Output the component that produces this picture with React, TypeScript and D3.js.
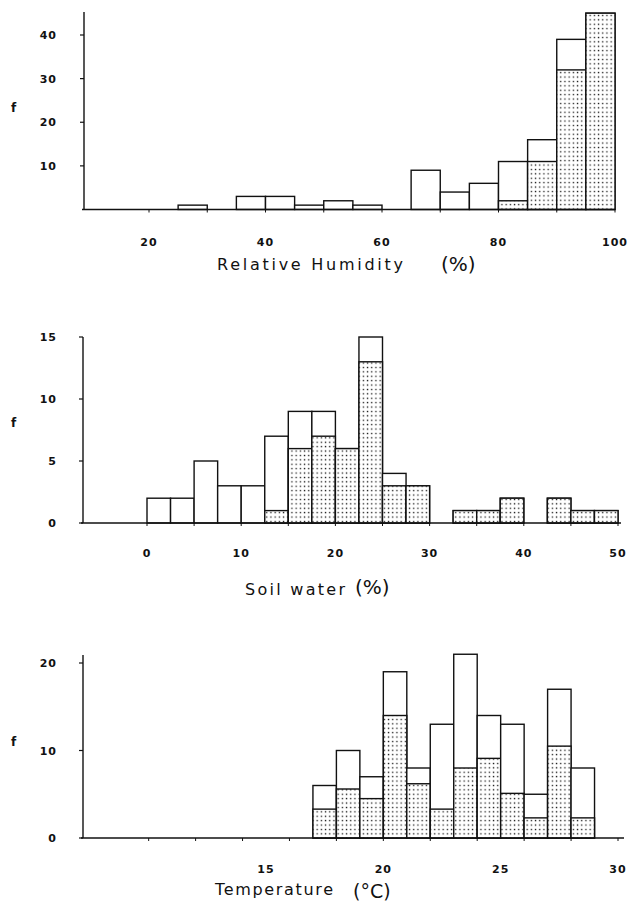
import React from 'react';
import * as d3 from 'd3';

// Relative humidity, 5 % bins
const rhBins = [10, 15, 20, 25, 30, 35, 40, 45, 50, 55, 60, 65, 70, 75, 80, 85, 90, 95];
const rhTotal = [0, 0, 0, 1, 0, 3, 3, 1, 2, 1, 0, 9, 4, 6, 11, 16, 39, 45];
const rhShaded = [0, 0, 0, 0, 0, 0, 0, 0, 0, 0, 0, 0, 0, 0, 2, 11, 32, 45];
const rhXTicks = [20, 40, 60, 80, 100];
const rhYTicks = [10, 20, 30, 40];

// Soil water, 2.5 % bins
const swBins = [0, 2.5, 5, 7.5, 10, 12.5, 15, 17.5, 20, 22.5, 25, 27.5, 30, 32.5, 35, 37.5, 40, 42.5, 45, 47.5];
const swTotal = [2, 2, 5, 3, 3, 7, 9, 9, 6, 15, 4, 3, 0, 1, 1, 2, 0, 2, 1, 1];
const swShaded = [0, 0, 0, 0, 0, 1, 6, 7, 6, 13, 3, 3, 0, 1, 1, 2, 0, 2, 1, 1];
const swXTicks = [0, 10, 20, 30, 40, 50];
const swYTicks = [0, 5, 10, 15];

// Temperature, 1 degree bins
const tBins = [17, 18, 19, 20, 21, 22, 23, 24, 25, 26, 27, 28];
const tTotal = [6, 10, 7, 19, 8, 13, 21, 14, 13, 5, 17, 8];
const tShaded = [3.3, 5.6, 4.5, 14, 6.2, 3.3, 8, 9.1, 5.1, 2.3, 10.5, 2.3];
const tXTicks = [15, 20, 25, 30];
const tYTicks = [0, 10, 20];

const ink = '#111';
const tickFont = { fontFamily: 'DejaVu Sans', fontWeight: 700, fontSize: 11, letterSpacing: 1 };

function Histogram(props: any) {
  const { bins, width, total, shaded, x, y, axisX, axisTop, axisEnd, xTicks, minorTicks, yTicks, labelY, fY } = props;
  const y0 = y(0);
  return (
    <g>
      {bins.map((b: number, i: number) => {
        const x0 = x(b);
        const w = x(b + width) - x0;
        return (
          <g key={b}>
            {total[i] > 0 && (
              <rect x={x0} y={y(total[i])} width={w} height={y0 - y(total[i])}
                fill="#fff" stroke={ink} strokeWidth={1.4} />
            )}
            {shaded[i] > 0 && (
              <rect x={x0} y={y(shaded[i])} width={w} height={y0 - y(shaded[i])}
                fill="url(#dots)" stroke={ink} strokeWidth={1.4} />
            )}
          </g>
        );
      })}
      <line x1={axisX} x2={axisX} y1={y0} y2={axisTop} stroke={ink} strokeWidth={1.4} />
      <line x1={axisX - 2} x2={axisEnd} y1={y0} y2={y0} stroke={ink} strokeWidth={1.6} />
      {minorTicks.map((t: number) => (
        <line key={'m' + t} x1={x(t)} x2={x(t)} y1={y0} y2={y0 + 3} stroke={ink} strokeWidth={1} />
      ))}
      {yTicks.map((t: number) => (
        <g key={'y' + t}>
          <line x1={axisX - 4} x2={axisX} y1={y(t)} y2={y(t)} stroke={ink} strokeWidth={1.2} />
          <text x={57} y={y(t) + 4} textAnchor="end" fill={ink} style={tickFont}>{t}</text>
        </g>
      ))}
      {xTicks.map((t: number) => (
        <text key={'x' + t} x={x(t)} y={labelY} textAnchor="middle" fill={ink} style={tickFont}>{t}</text>
      ))}
      <text x={14} y={fY} textAnchor="middle" fill={ink} style={{ ...tickFont, fontSize: 12 }}>f</text>
    </g>
  );
}

export default function App() {
  const rhX = d3.scaleLinear().domain([20, 100]).range([149, 615]);
  const rhY = d3.scaleLinear().domain([0, 40]).range([209.5, 35]);
  const swX = d3.scaleLinear().domain([0, 50]).range([147, 618]);
  const swY = d3.scaleLinear().domain([0, 15]).range([523, 337]);
  const tX = d3.scaleLinear().domain([15, 30]).range([266, 618]);
  const tY = d3.scaleLinear().domain([0, 20]).range([838, 663]);

  const titleFont = { fontFamily: 'DejaVu Sans', fontSize: 16, fontWeight: 400 };
  const unitFont = { fontFamily: 'DejaVu Sans', fontSize: 20, fontWeight: 400 };

  return (
    <>
      <style>{'body{margin:0}'}</style>
      <svg width={629} height={903} style={{ display: 'block', background: '#fff' }}>
        <defs>
          <pattern id="dots" width={4.2} height={4.4} patternUnits="userSpaceOnUse">
            <rect width={4.2} height={4.4} fill="#fff" />
            <rect x={1.5} y={1.6} width={1.3} height={1.3} fill={ink} />
          </pattern>
        </defs>

        <Histogram bins={rhBins} width={5} total={rhTotal} shaded={rhShaded} x={rhX} y={rhY}
          axisX={84} axisTop={12} axisEnd={615} xTicks={rhXTicks} minorTicks={d3.range(20, 101, 10)}
          yTicks={rhYTicks} labelY={246} fY={112} />
        <text x={217} y={270} fill={ink} style={titleFont} textLength={186} lengthAdjust="spacing">Relative Humidity</text>
        <text x={441} y={271} fill={ink} style={unitFont}>(%)</text>

        <Histogram bins={swBins} width={2.5} total={swTotal} shaded={swShaded} x={swX} y={swY}
          axisX={83} axisTop={337} axisEnd={621} xTicks={swXTicks} minorTicks={d3.range(0, 51, 5)}
          yTicks={swYTicks} labelY={557} fY={427} />
        <text x={245} y={595} fill={ink} style={titleFont} textLength={100} lengthAdjust="spacing">Soil water</text>
        <text x={355} y={594} fill={ink} style={unitFont}>(%)</text>

        <Histogram bins={tBins} width={1} total={tTotal} shaded={tShaded} x={tX} y={tY}
          axisX={83} axisTop={655} axisEnd={624} xTicks={tXTicks} minorTicks={d3.range(10, 31, 2)}
          yTicks={tYTicks} labelY={873} fY={746} />
        <text x={215} y={895} fill={ink} style={titleFont} textLength={118} lengthAdjust="spacing">Temperature</text>
        <text x={353} y={898} fill={ink} style={{ ...unitFont, fontSize: 19 }}>(°C)</text>
      </svg>
    </>
  );
}
